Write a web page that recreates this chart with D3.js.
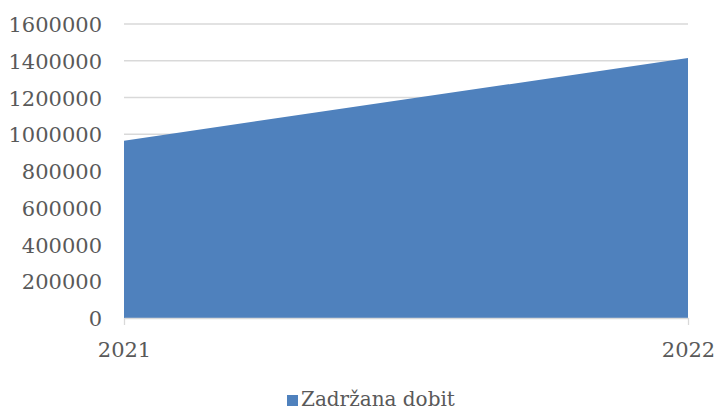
<!DOCTYPE html>
<html>
<head>
<meta charset="utf-8">
<script src="https://cdn.jsdelivr.net/npm/d3@7"></script>
<style>
  body { margin: 0; background: #fff; }
  svg text { font-family: "DejaVu Serif", serif; fill: #595959; }
</style>
</head>
<body>
<svg id="chart" width="716" height="410"></svg>
<script>
// chart data
var years = ["2021", "2022"];
var values = [965000, 1415000];
var yTicks = [0, 200000, 400000, 600000, 800000, 1000000, 1200000, 1400000, 1600000];
var seriesName = "Zadržana dobit";

var svg = d3.select("#chart");
var plotLeft = 124, plotRight = 688, plotTop = 24, plotBottom = 318;

var x = d3.scalePoint().domain(years).range([plotLeft, plotRight]);
var y = d3.scaleLinear().domain([0, 1600000]).range([plotBottom, plotTop]);

// gridlines
svg.append("g")
    .selectAll("line")
    .data(yTicks.slice(1))
    .enter().append("line")
    .attr("x1", plotLeft).attr("x2", plotRight)
    .attr("y1", d => y(d)).attr("y2", d => y(d))
    .attr("stroke", "#d9d9d9")
    .attr("stroke-width", 1.3);

// area
var area = d3.area()
    .x((d, i) => x(years[i]))
    .y0(y(0))
    .y1(d => y(d));

svg.append("path")
    .datum(values)
    .attr("d", area)
    .attr("fill", "#4f81bd");

// y axis labels
svg.append("g")
    .selectAll("text")
    .data(yTicks)
    .enter().append("text")
    .attr("x", 102)
    .attr("y", d => y(d) + 8)
    .attr("text-anchor", "end")
    .style("font-size", "21px")
    .text(d => d);

// x axis
var xAxis = d3.axisBottom(x).tickSize(7).tickPadding(17).tickSizeOuter(0);
var gx = svg.append("g")
    .attr("transform", "translate(0," + plotBottom + ")")
    .attr("font-family", null)
    .call(xAxis);
gx.select(".domain").attr("stroke", "#d9d9d9").attr("stroke-width", 1.3);
gx.selectAll(".tick line").attr("stroke", "#d9d9d9").attr("stroke-width", 1.3);
gx.selectAll(".tick text")
    .style("font-size", "21px")
    .attr("fill", "#595959");

// legend
var legend = svg.append("g");
legend.append("rect")
    .attr("x", 287).attr("y", 395)
    .attr("width", 11).attr("height", 11)
    .attr("fill", "#4f81bd");
legend.append("text")
    .attr("x", 301).attr("y", 406)
    .style("font-size", "20px")
    .text(seriesName);
</script>
</body>
</html>
